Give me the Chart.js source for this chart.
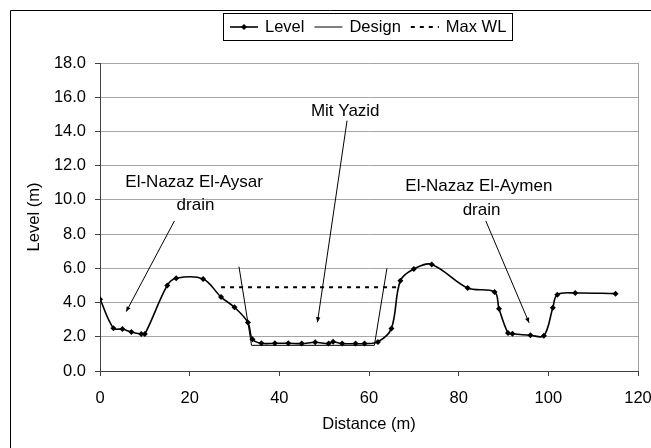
<!DOCTYPE html>
<html>
<head>
<meta charset="utf-8">
<script src="https://cdn.jsdelivr.net/npm/chart.js@4/dist/chart.umd.min.js"></script>
<style>
html,body{margin:0;padding:0;background:#fff;}
canvas{display:block;}
</style>
</head>
<body>
<canvas id="c" width="651" height="448" style="width:651px;height:448px"></canvas>
<script>
// ---- data ----
const distance = [0, 3, 5, 7, 9.2, 10, 15, 17, 23, 27, 30, 33, 34, 36, 39, 42, 45, 48, 51, 52, 54, 57, 59, 62, 65, 67, 70, 74, 82, 88, 89, 91, 92, 96, 99, 101, 102, 106, 115];
const level    = [4.2, 2.5, 2.45, 2.28, 2.16, 2.16, 5.0, 5.42, 5.38, 4.32, 3.72, 2.83, 1.85, 1.62, 1.62, 1.62, 1.6, 1.68, 1.6, 1.71, 1.6, 1.6, 1.6, 1.7, 2.49, 5.28, 5.96, 6.23, 4.85, 4.62, 3.64, 2.22, 2.18, 2.09, 2.06, 3.7, 4.46, 4.56, 4.52];
const designX  = [31, 33.8, 61.2, 64];
const designY  = [6.1, 1.5, 1.5, 6.0];
const maxWLX   = [27, 66.5];
const maxWLY   = [4.9, 4.9];
const seriesNames = ['Level', 'Design', 'Max WL'];
const xTickValues = [0, 20, 40, 60, 80, 100, 120];
const yTickValues = [0, 2, 4, 6, 8, 10, 12, 14, 16, 18];
const xTitle = 'Distance (m)';
const yTitle = 'Level (m)';
// annotation labels (text, x, y in data units)
const noteText = ['El-Nazaz El-Aysar', 'drain', 'Mit Yazid', 'El-Nazaz El-Aymen', 'drain'];
const noteX    = [21.0, 21.3, 54.7, 84.5, 85.1];
const noteY    = [11.05, 9.7, 15.15, 10.77, 9.41];
// annotation arrows (from -> to, data units)
const arrowFromX = [16.6, 55.1, 86.05];
const arrowFromY = [8.77, 14.63, 8.77];
const arrowToX   = [5.85, 48.5, 95.7];
const arrowToY   = [3.47, 2.85, 2.82];

const FONT = 'Liberation Sans, Arial, Helvetica, sans-serif';
const FS = 16.5;

const toPts = (xs, ys) => xs.map((x, i) => ({x: x, y: ys[i]}));

const framePlugin = {
  id: 'frame',
  beforeDraw(chart) {
    const ctx = chart.ctx;
    ctx.save();
    ctx.fillStyle = '#fff';
    ctx.fillRect(0, 0, chart.width, chart.height);
    ctx.strokeStyle = '#000';
    ctx.lineWidth = 1;
    ctx.beginPath();
    ctx.moveTo(10.5, chart.height);
    ctx.lineTo(10.5, 10.5);
    ctx.lineTo(chart.width, 10.5);
    ctx.stroke();
    ctx.restore();
  },
  beforeDatasetsDraw(chart) {
    const a = chart.chartArea, ctx = chart.ctx;
    ctx.save();
    ctx.strokeStyle = '#a0a0a0';
    ctx.lineWidth = 1;
    ctx.beginPath();
    ctx.moveTo(Math.round(a.right) + 0.5, a.top);
    ctx.lineTo(Math.round(a.right) + 0.5, a.bottom);
    ctx.stroke();
    ctx.restore();
  }
};

function drawArrow(ctx, x1, y1, x2, y2) {
  ctx.beginPath();
  ctx.moveTo(x1, y1);
  ctx.lineTo(x2, y2);
  ctx.stroke();
  const ang = Math.atan2(y2 - y1, x2 - x1);
  const L = 5, W = 2.2;
  ctx.beginPath();
  ctx.moveTo(x2, y2);
  ctx.lineTo(x2 - L * Math.cos(ang) + W * Math.sin(ang), y2 - L * Math.sin(ang) - W * Math.cos(ang));
  ctx.lineTo(x2 - L * Math.cos(ang) - W * Math.sin(ang), y2 - L * Math.sin(ang) + W * Math.cos(ang));
  ctx.closePath();
  ctx.fill();
}

const notesPlugin = {
  id: 'notes',
  afterDatasetsDraw(chart) {
    const ctx = chart.ctx, xs = chart.scales.x, ys = chart.scales.y;
    ctx.save();
    ctx.fillStyle = '#000';
    ctx.strokeStyle = '#000';
    ctx.lineWidth = 1;
    ctx.font = '17px ' + FONT;
    ctx.textAlign = 'center';
    ctx.textBaseline = 'middle';
    noteText.forEach((t, i) => {
      ctx.fillText(t, xs.getPixelForValue(noteX[i]), ys.getPixelForValue(noteY[i]));
    });
    arrowFromX.forEach((fx, i) => {
      drawArrow(ctx,
        xs.getPixelForValue(fx), ys.getPixelForValue(arrowFromY[i]),
        xs.getPixelForValue(arrowToX[i]), ys.getPixelForValue(arrowToY[i]));
    });
    ctx.restore();
  }
};

const legendPlugin = {
  id: 'boxLegend',
  afterDraw(chart) {
    const ctx = chart.ctx;
    ctx.save();
    ctx.font = FS + 'px ' + FONT;
    ctx.textBaseline = 'middle';
    ctx.textAlign = 'left';
    const top = 13.5, bottom = 40.5, cy = 27;
    const sample = 28, gapIn = 7, gapOut = 10;
    let x = 230;
    const items = chart.data.datasets.map(ds => {
      const w = ctx.measureText(ds.label).width;
      const it = {ds, x0: x, tx: x + sample + gapIn, w};
      x = it.tx + w + gapOut;
      return it;
    });
    const left = 223.5;
    const right = Math.round(items[items.length - 1].tx + items[items.length - 1].w + 6) + 0.5;
    ctx.fillStyle = '#fff';
    ctx.fillRect(left, top, right - left, bottom - top);
    ctx.strokeStyle = '#000';
    ctx.lineWidth = 1;
    ctx.strokeRect(left, top, right - left, bottom - top);
    items.forEach(it => {
      const ds = it.ds;
      ctx.strokeStyle = ds.borderColor;
      ctx.lineWidth = ds.borderWidth;
      ctx.setLineDash(ds.borderDash || []);
      ctx.beginPath();
      ctx.moveTo(it.x0, cy);
      ctx.lineTo(it.x0 + sample, cy);
      ctx.stroke();
      ctx.setLineDash([]);
      if (ds.pointRadius > 0) {
        ctx.fillStyle = ds.pointBackgroundColor;
        const cx = it.x0 + sample / 2, r = ds.pointRadius;
        ctx.beginPath();
        ctx.moveTo(cx, cy - r); ctx.lineTo(cx + r, cy); ctx.lineTo(cx, cy + r); ctx.lineTo(cx - r, cy);
        ctx.closePath();
        ctx.fill();
      }
      ctx.fillStyle = '#000';
      ctx.fillText(ds.label, it.tx, cy);
    });
    ctx.restore();
  }
};

new Chart(document.getElementById('c'), {
  type: 'line',
  data: {
    datasets: [
      {
        label: seriesNames[0],
        data: toPts(distance, level),
        borderColor: '#000',
        borderWidth: 1.6,
        tension: 0.35,
        pointStyle: 'rectRot',
        pointRadius: 3,
        pointBackgroundColor: '#000',
        pointBorderColor: '#000',
        pointBorderWidth: 0,
        fill: false
      },
      {
        label: seriesNames[1],
        data: toPts(designX, designY),
        borderColor: '#000',
        borderWidth: 1,
        tension: 0,
        pointRadius: 0,
        fill: false
      },
      {
        label: seriesNames[2],
        data: toPts(maxWLX, maxWLY),
        borderColor: '#000',
        borderWidth: 2,
        borderDash: [4, 5],
        tension: 0,
        pointRadius: 0,
        fill: false
      }
    ]
  },
  options: {
    responsive: false,
    animation: false,
    devicePixelRatio: 1,
    layout: { padding: { left: 0, right: 13, top: 63, bottom: 0 } },
    plugins: { legend: { display: false }, tooltip: { enabled: false } },
    scales: {
      x: {
        type: 'linear',
        min: xTickValues[0],
        max: xTickValues[xTickValues.length - 1],
        afterBuildTicks: s => { s.ticks = xTickValues.map(v => ({value: v})); },
        afterFit: s => { s.height = 77; s.paddingLeft = 0; s.paddingRight = 0; },
        ticks: { color: '#000', font: { family: FONT, size: FS }, padding: 13, maxRotation: 0, autoSkip: false },
        grid: { drawOnChartArea: false, drawTicks: true, tickLength: 5, color: '#404040', lineWidth: 1 },
        border: { color: '#404040', width: 1 },
        title: { display: true, text: xTitle, color: '#000', font: { family: FONT, size: FS }, padding: { top: 0, bottom: 14 } }
      },
      y: {
        type: 'linear',
        min: yTickValues[0],
        max: yTickValues[yTickValues.length - 1],
        afterBuildTicks: s => { s.ticks = yTickValues.map(v => ({value: v})); },
        afterFit: s => { s.width = 100; s.paddingTop = 0; s.paddingBottom = 0; },
        ticks: { color: '#000', font: { family: FONT, size: FS }, padding: 9, callback: v => Number(v).toFixed(1) },
        grid: { drawOnChartArea: true, drawTicks: true, tickLength: 5, color: '#a6a6a6', tickColor: '#404040', lineWidth: 1 },
        border: { color: '#404040', width: 1 },
        title: { display: true, text: yTitle, color: '#000', font: { family: FONT, size: FS }, padding: { top: 25, bottom: 0 } }
      }
    }
  },
  plugins: [framePlugin, notesPlugin, legendPlugin]
});
</script>
</body>
</html>
